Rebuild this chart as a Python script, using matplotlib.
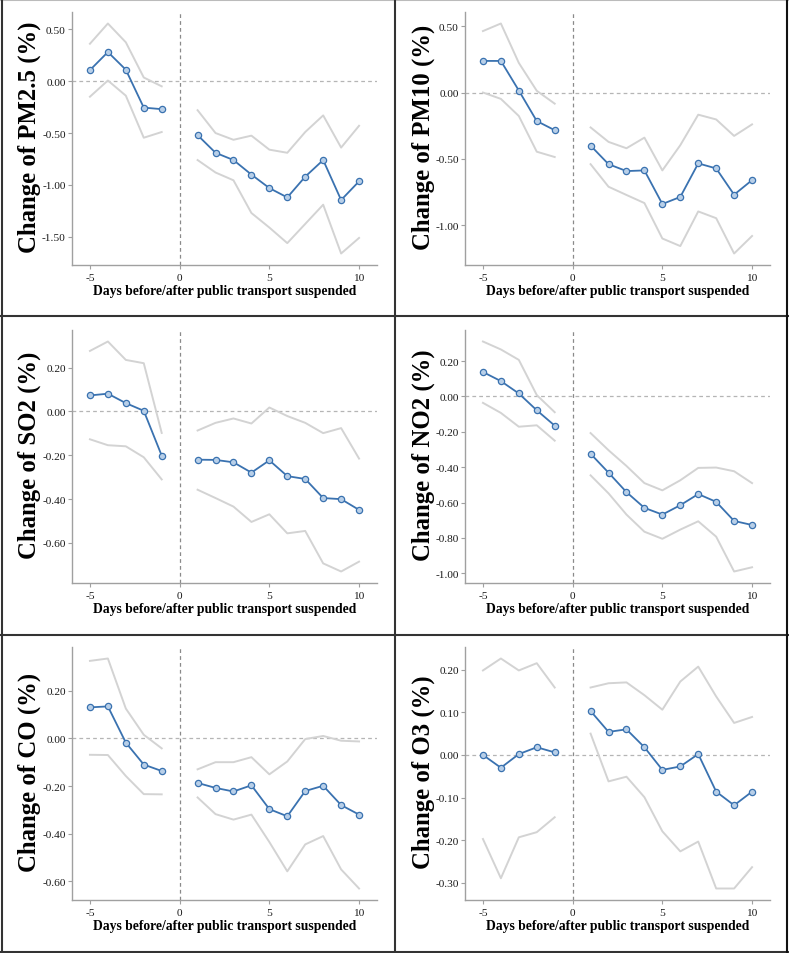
import matplotlib
matplotlib.use("Agg")
import matplotlib.pyplot as plt
from matplotlib.lines import Line2D
from matplotlib.ticker import FormatStrFormatter

plt.rcParams['font.family'] = ['Liberation Serif', 'DejaVu Serif']
plt.rcParams['axes.unicode_minus'] = False

days_before = [-5, -4, -3, -2, -1]
days_after = [1, 2, 3, 4, 5, 6, 7, 8, 9, 10]
days = days_before + days_after

pollutants = ["PM2.5", "PM10", "SO2", "NO2", "CO", "O3"]

pm25_mean = [0.106, 0.28, 0.11, -0.255, -0.27, -0.52, -0.69, -0.76, -0.90, -1.03, -1.12, -0.92, -0.76, -1.145, -0.965]
pm25_upper = [0.36, 0.555, 0.374, 0.035, -0.05, -0.28, -0.50, -0.565, -0.525, -0.66, -0.69, -0.49, -0.33, -0.64, -0.43]
pm25_lower = [-0.15, 0.006, -0.14, -0.545, -0.49, -0.76, -0.88, -0.955, -1.27, -1.41, -1.56, -1.375, -1.19, -1.66, -1.51]

pm10_mean = [0.238, 0.238, 0.015, -0.215, -0.284, -0.40, -0.54, -0.592, -0.587, -0.84, -0.787, -0.534, -0.572, -0.77, -0.66]
pm10_upper = [0.463, 0.52, 0.223, 0.013, -0.084, -0.263, -0.372, -0.42, -0.34, -0.587, -0.397, -0.167, -0.203, -0.327, -0.24]
pm10_lower = [0.0, -0.048, -0.177, -0.446, -0.486, -0.54, -0.71, -0.772, -0.833, -1.10, -1.157, -0.896, -0.947, -1.213, -1.081]

so2_mean = [0.073, 0.081, 0.038, 0.003, -0.2015, -0.22, -0.221, -0.232, -0.279, -0.223, -0.295, -0.308, -0.395, -0.40, -0.449]
so2_upper = [0.276, 0.319, 0.235, 0.22, -0.098, -0.087, -0.052, -0.032, -0.055, 0.018, -0.021, -0.052, -0.099, -0.076, -0.215]
so2_lower = [-0.127, -0.154, -0.159, -0.209, -0.31, -0.357, -0.395, -0.434, -0.504, -0.469, -0.556, -0.545, -0.693, -0.73, -0.685]

no2_mean = [0.1385, 0.087, 0.017, -0.078, -0.165, -0.324, -0.431, -0.541, -0.63, -0.668, -0.615, -0.552, -0.596, -0.704, -0.727]
no2_upper = [0.311, 0.266, 0.207, 0.008, -0.089, -0.207, -0.304, -0.393, -0.49, -0.531, -0.474, -0.404, -0.402, -0.423, -0.49]
no2_lower = [-0.036, -0.093, -0.171, -0.163, -0.25, -0.446, -0.548, -0.668, -0.765, -0.805, -0.753, -0.706, -0.793, -0.99, -0.966]

co_mean = [0.13, 0.134, -0.018, -0.11, -0.137, -0.187, -0.208, -0.223, -0.197, -0.297, -0.327, -0.221, -0.199, -0.28, -0.32]
co_upper = [0.325, 0.335, 0.125, 0.015, -0.042, -0.13, -0.10, -0.10, -0.079, -0.151, -0.097, -0.003, 0.01, -0.01, -0.013]
co_lower = [-0.069, -0.07, -0.158, -0.234, -0.235, -0.248, -0.318, -0.341, -0.32, -0.435, -0.558, -0.445, -0.41, -0.55, -0.63]

o3_mean = [0.0, -0.03, 0.002, 0.018, 0.006, 0.103, 0.054, 0.06, 0.018, -0.035, -0.027, 0.002, -0.086, -0.118, -0.086]
o3_upper = [0.198, 0.226, 0.198, 0.215, 0.158, 0.158, 0.168, 0.17, 0.14, 0.106, 0.172, 0.207, 0.137, 0.075, 0.089]
o3_lower = [-0.197, -0.289, -0.193, -0.181, -0.146, 0.05, -0.062, -0.051, -0.099, -0.179, -0.226, -0.203, -0.313, -0.313, -0.263]

series = [
    (pm25_mean, pm25_upper, pm25_lower, [0.5, 0.0, -0.5, -1.0, -1.5]),
    (pm10_mean, pm10_upper, pm10_lower, [0.5, 0.0, -0.5, -1.0]),
    (so2_mean, so2_upper, so2_lower, [0.2, 0.0, -0.2, -0.4, -0.6]),
    (no2_mean, no2_upper, no2_lower, [0.2, 0.0, -0.2, -0.4, -0.6, -0.8, -1.0]),
    (co_mean, co_upper, co_lower, [0.2, 0.0, -0.2, -0.4, -0.6]),
    (o3_mean, o3_upper, o3_lower, [0.2, 0.1, 0.0, -0.1, -0.2, -0.3]),
]

W, H = 789, 954
fig = plt.figure(figsize=(W / 100, H / 100), dpi=100)

col_left = [72, 465]
ax_w = 305
row_top = [13, 331, 648]
ax_h = 253

BLUE = '#3a72b0'
GRAY_CI = '#d3d3d3'
SPINE = '#a0a0a0'

nb = len(days_before)
for i, (name, (mean, up, lo, yt)) in enumerate(zip(pollutants, series)):
    r, c = divmod(i, 2)
    left = col_left[c] / W
    bottom = 1 - (row_top[r] + ax_h) / H
    ax = fig.add_axes([left, bottom, ax_w / W, ax_h / H])
    for seg in (slice(0, nb), slice(nb, None)):
        ax.plot(days[seg], up[seg], color=GRAY_CI, lw=1.4, zorder=1)
        ax.plot(days[seg], lo[seg], color=GRAY_CI, lw=1.4, zorder=1)
        ax.plot(days[seg], mean[seg], color=BLUE, lw=1.3, marker='o', ms=4.5,
                mfc='#b8cfe8', mec=BLUE, mew=0.9, zorder=3)
    ax.axhline(0, color='#b5b5b5', lw=0.9, ls=(0, (3, 2.5)), zorder=0)
    ax.axvline(0, color='#8a8a8a', lw=0.9, ls=(0, (3, 2.5)), zorder=0)
    ax.set_xlim(-6, 11)
    ax.set_xticks([-5, 0, 5, 10])
    ax.set_yticks(yt)
    ax.yaxis.set_major_formatter(FormatStrFormatter('%.2f'))
    for s in ('top', 'right'):
        ax.spines[s].set_visible(False)
    for s in ('left', 'bottom'):
        ax.spines[s].set_color(SPINE)
        ax.spines[s].set_linewidth(1.0)
    ax.tick_params(axis='both', length=3, width=0.8, color=SPINE, labelsize=8.2,
                   pad=1.5, labelcolor='#1a1a1a')
    ax.tick_params(axis='x', pad=3)
    ax.set_ylabel(f'Change of {name} (%)', fontsize=17.8, fontweight='bold')
    ax.yaxis.set_label_coords(-0.1, 0.51)
    ax.set_xlabel('Days before/after public transport suspended', fontsize=9.8,
                  fontweight='bold')
    ax.xaxis.set_label_coords(0.5, -0.075)

# cell borders
def hline(y, x0, x1, color='#333333', lw=1.5):
    fig.add_artist(Line2D([x0 / W, x1 / W], [1 - y / H, 1 - y / H], color=color, lw=lw))

def vline(x, y0, y1, color='#333333', lw=1.5):
    fig.add_artist(Line2D([x / W, x / W], [1 - y0 / H, 1 - y1 / H], color=color, lw=lw))

hline(1, 0, W, color='#bbbbbb')
hline(317, 0, W)
hline(636, 0, W)
hline(952.5, 0, W)
vline(2, 0, H)
vline(394.5, 0, H)
vline(786.5, 0, H, color='#111111')

fig.savefig('out.png', dpi=100)
